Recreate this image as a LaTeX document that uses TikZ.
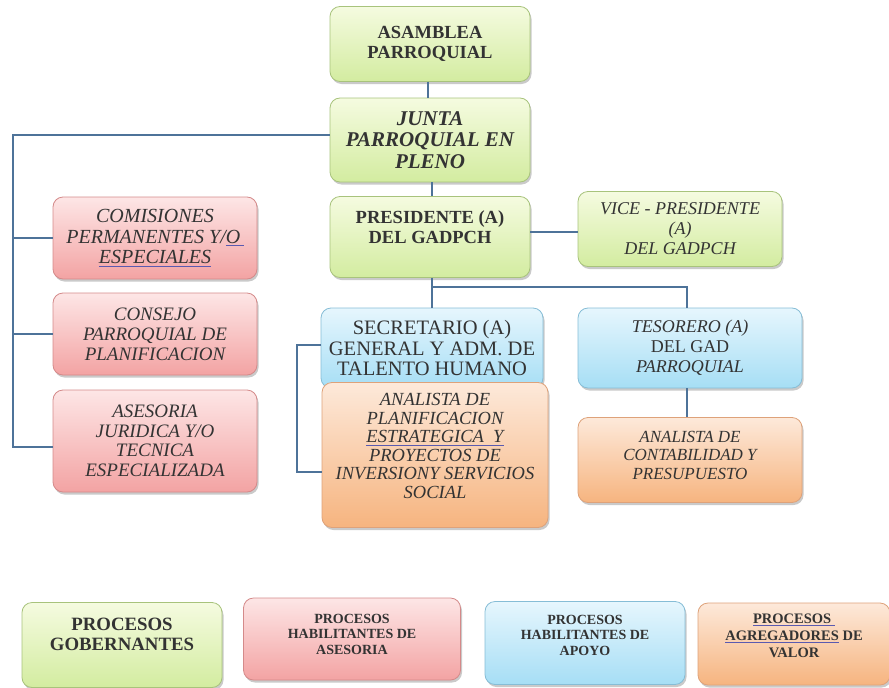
\documentclass[tikz,border=0pt]{standalone}
\usepackage{fontspec}
\setmainfont{Liberation Serif}
\usetikzlibrary{shadows}
\definecolor{gT}{HTML}{F5FBE0}\definecolor{gBot}{HTML}{D3ECA0}\definecolor{gD}{HTML}{A8C37C}
\definecolor{pT}{HTML}{FDE6E6}\definecolor{pBot}{HTML}{F3A3A3}\definecolor{pD}{HTML}{D48A8A}
\definecolor{bT}{HTML}{E6F6FD}\definecolor{bBot}{HTML}{A6DEF5}\definecolor{bD}{HTML}{86BDD6}
\definecolor{oT}{HTML}{FDE9DA}\definecolor{oBot}{HTML}{F6B47F}\definecolor{oD}{HTML}{DEA27A}
\definecolor{lineC}{HTML}{4E7399}
\definecolor{txt}{HTML}{333333}
\definecolor{spellC}{HTML}{5A5AB0}
\newcommand\fsz[2]{\fontsize{#1}{#2}\selectfont}
\newsavebox\splbox
\newcommand\splu[1]{\sbox\splbox{#1}\rlap{\textcolor{spellC}{\rule[-0.35ex]{\wd\splbox}{1.1pt}}}\usebox\splbox}
\tikzset{
  orgbox/.style={rounded corners=10pt, line width=0.8pt, align=center, inner sep=2pt, text=txt,
    drop shadow={shadow xshift=1.5pt, shadow yshift=-2.5pt, opacity=0.35, fill=black!60}},
  gbox/.style={orgbox, draw=gD, top color=gT, bottom color=gBot},
  pbox/.style={orgbox, draw=pD, top color=pT, bottom color=pBot},
  bbox/.style={orgbox, draw=bD, top color=bT, bottom color=bBot},
  obox/.style={orgbox, draw=oD, top color=oT, bottom color=oBot},
  conn/.style={draw=lineC, line width=1.8pt},
}
\begin{document}
\begin{tikzpicture}[x=1pt,y=-1pt]
\useasboundingbox (0,0) rectangle (889,688);
% main column
\node[gbox, minimum width=200pt, minimum height=75pt, font=\bfseries\fsz{18.5}{20}] (asamblea) at (430,44) {ASAMBLEA\\PARROQUIAL};
\node[gbox, minimum width=200pt, minimum height=84pt, font=\bfseries\itshape\fsz{21}{21.5}] (junta) at (430,140) {JUNTA\\PARROQUIAL EN\\PLENO};
\node[gbox, minimum width=200pt, minimum height=81pt, font=\bfseries\fsz{18.5}{20}] (presidente) at (430,237) {PRESIDENTE (A)\\DEL GADPCH\rule[-20pt]{0pt}{0pt}};
\node[gbox, minimum width=204pt, minimum height=75pt, font=\itshape\fsz{18}{20}] (vice) at (680,229) {VICE - PRESIDENTE\\(A)\\DEL GADPCH};
% left column
\node[pbox, minimum width=204pt, minimum height=82pt, font=\itshape\fsz{20}{20.5}] (comisiones) at (155,238) {COMISIONES\\PERMANENTES Y/\splu{O\,}\\\splu{ESPECIALES}};
\node[pbox, minimum width=204pt, minimum height=82pt, font=\itshape\fsz{19}{20}] (consejo) at (155,334) {CONSEJO\\PARROQUIAL DE\\PLANIFICACION};
\node[pbox, minimum width=204pt, minimum height=102pt, font=\itshape\fsz{19}{19.5}] (asesoria) at (155,441) {ASESORIA\\JURIDICA Y/O\\TECNICA\\ESPECIALIZADA};
% lower middle
\node[bbox, minimum width=222pt, minimum height=80pt, font=\fsz{20.5}{20.5}] (secretario) at (432,348) {SECRETARIO (A)\\GENERAL Y ADM. DE\\TALENTO HUMANO};
\node[obox, minimum width=226pt, minimum height=145pt, font=\itshape\fsz{18.5}{18.5}] (analistap) at (435,455) {ANALISTA DE\\PLANIFICACION\\\splu{ESTRATEGICA\ \ Y}\\PROYECTOS DE\\INVERSIONY SERVICIOS\\SOCIAL\rule[-18pt]{0pt}{0pt}};
\node[bbox, minimum width=224pt, minimum height=80pt, font=\itshape\fsz{18}{20}] (tesorero) at (690,348) {TESORERO (A)\\{\upshape DEL GAD}\\PARROQUIAL};
\node[obox, minimum width=224pt, minimum height=85pt, font=\itshape\fsz{17}{18.5}] (contab) at (690,460) {ANALISTA DE\\CONTABILIDAD Y\\PRESUPUESTO\rule[-10pt]{0pt}{0pt}};
% legend
\node[gbox, minimum width=200pt, minimum height=85pt, font=\bfseries\fsz{18.8}{20}] (lg1) at (122,645) {PROCESOS\\GOBERNANTES\rule[-22pt]{0pt}{0pt}};
\node[pbox, minimum width=217pt, minimum height=82pt, font=\bfseries\fsz{14}{15.5}] (lg2) at (352,639) {PROCESOS\\HABILITANTES DE\\ASESORIA\rule[-10pt]{0pt}{0pt}};
\node[bbox, minimum width=200pt, minimum height=83pt, font=\bfseries\fsz{14}{15.5}] (lg3) at (585,643) {PROCESOS\\HABILITANTES DE\\APOYO\rule[-16pt]{0pt}{0pt}};
\node[obox, minimum width=192pt, minimum height=82pt, font=\bfseries\fsz{14.5}{17}] (lg4) at (794,644) {\splu{PROCESOS\ }\\\splu{AGREGADORES} DE\\VALOR\rule[-16pt]{0pt}{0pt}};
% connectors
\draw[conn] ([xshift=-2pt]asamblea.south) -- ([xshift=-2pt]junta.north);
\draw[conn] ([xshift=2pt]junta.south) -- ([xshift=2pt]presidente.north);
\coordinate (lb) at (13,447);
\path ([yshift=5pt]junta.west) coordinate (jw);
\path ([yshift=-6pt]asesoria.west) coordinate (aw);
\draw[conn] (jw) -| (lb) -- (aw);
\draw[conn] (comisiones.west) -- (comisiones.west -| lb);
\draw[conn] (consejo.west) -- (consejo.west -| lb);
\path ([yshift=5pt]presidente.east) coordinate (pe);
\draw[conn] (pe) -- (pe -| vice.west);
\coordinate (jn) at (432,287);
\coordinate (tj) at (687,287);
\draw[conn] (presidente.south -| jn) -- (jn) -- (secretario.north -| jn);
\draw[conn] (jn) -- (tj) -- (tj |- tesorero.north);
\draw[conn] (tj |- tesorero.south) -- (tj |- contab.north);
\path ([yshift=-17pt]analistap.west) coordinate (aw2);
\draw[conn] ([yshift=3pt]secretario.west) -- ++(-24,0) |- (aw2);
\end{tikzpicture}
\end{document}
